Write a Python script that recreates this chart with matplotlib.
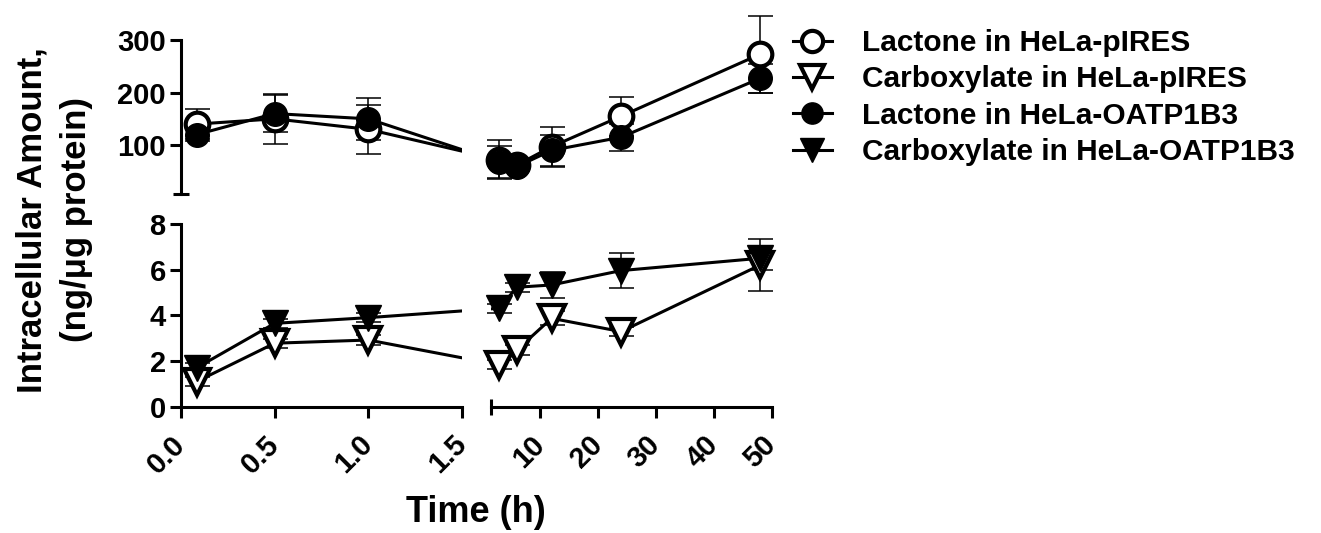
import matplotlib
matplotlib.use('Agg')
import matplotlib.pyplot as plt
from matplotlib.lines import Line2D
import numpy as np

plt.rcParams['font.family'] = ['Liberation Sans', 'DejaVu Sans']
plt.rcParams['font.weight'] = 'bold'
plt.rcParams['axes.linewidth'] = 2.2

# time points (h)
times = [0.083, 0.5, 1.0, 3, 6, 12, 24, 48]

# lactone (upper panel), ng/ug protein
lac_pires = [140, 150, 130, 72, 62, 97, 155, 273]
lac_pires_sd = [28, 47, 46, 37, 10, 38, 37, 73]
lac_oatp = [120, 160, 150, 68, 59, 90, 115, 227]
lac_oatp_sd = [12, 35, 40, 30, 8, 30, 26, 27]

# carboxylate (lower panel)
carb_pires = [1.1, 2.78, 2.92, 1.83, 2.48, 3.87, 3.29, 6.2]
carb_pires_sd = [0.2, 0.2, 0.2, 0.2, 0.2, 0.3, 0.2, 1.15]
carb_oatp = [1.7, 3.65, 3.9, 4.31, 5.23, 5.33, 5.96, 6.5]
carb_oatp_sd = [0.2, 0.2, 0.2, 0.2, 0.2, 0.55, 0.75, 0.5]

labels = ['Lactone in HeLa-pIRES', 'Carboxylate in HeLa-pIRES',
          'Lactone in HeLa-OATP1B3', 'Carboxylate in HeLa-OATP1B3']

left_ticks = [0.0, 0.5, 1.0, 1.5]
right_ticks = [10, 20, 30, 40, 50]
brk = 1.5
tmax = 50
gap = 0.153


def tx(h):
    # map time onto the broken axis (both segments same width)
    h = np.asarray(h, dtype=float)
    return np.where(h <= brk, h, brk + gap + (h - brk) * brk / (tmax - brk))


W, H = 1321, 533
fig = plt.figure(figsize=(W / 100, H / 100), dpi=100)

xl, xr, aw = 181 / W, 490.7 / W, 281 / W
up_b, up_h = 1 - 194 / H, 154 / H
lo_b, lo_h = 1 - 406.7 / H, 182.7 / H

ax_ul = fig.add_axes([xl, up_b, aw, up_h])
ax_ur = fig.add_axes([xr, up_b, aw, up_h])
ax_ll = fig.add_axes([xl, lo_b, aw, lo_h])
ax_lr = fig.add_axes([xr, lo_b, aw, lo_h])

u = tx(times)
nl = 3  # points in left segment

styles = [
    dict(marker='o', mfc='white', mec='black', mew=3),
    dict(marker='v', mfc='white', mec='black', mew=3),
    dict(marker='o', mfc='black', mec='black', mew=1),
    dict(marker='v', mfc='black', mec='black', mew=1),
]
sizes = [17, 19, 17, 19]

series = [(lac_pires, lac_pires_sd, 'up'),
          (carb_pires, carb_pires_sd, 'lo'),
          (lac_oatp, lac_oatp_sd, 'up'),
          (carb_oatp, carb_oatp_sd, 'lo')]

for (vals, sd, panel), st, ms in zip(series, styles, sizes):
    vals = np.array(vals, dtype=float)
    sd = np.array(sd, dtype=float)
    pair = (ax_ul, ax_ur) if panel == 'up' else (ax_ll, ax_lr)
    for k, ax in enumerate(pair):
        ax.plot(u, vals, color='black', lw=2.2, zorder=2)
        sl = slice(0, nl) if k == 0 else slice(nl, None)
        ax.errorbar(u[sl], vals[sl], yerr=sd[sl], fmt='none', ecolor='black',
                    elinewidth=1.1, capsize=9, capthick=1.1, zorder=1,
                    clip_on=False)
        ax.plot(u[sl], vals[sl], ls='none', ms=ms, clip_on=False, zorder=3, **st)

for ax in (ax_ul, ax_ll):
    ax.set_xlim(0, brk)
for ax in (ax_ur, ax_lr):
    ax.set_xlim(float(tx(brk + 1e-9)) - 1e-9, float(tx(tmax)))

ax_ul.set_ylim(7, 300)
ax_ur.set_ylim(7, 300)
ax_ll.set_ylim(0, 8)
ax_lr.set_ylim(0, 8)

for ax in (ax_ul, ax_ur, ax_ll, ax_lr):
    for s in ax.spines.values():
        s.set_visible(False)
    ax.set_facecolor('none')
    ax.tick_params(width=2.2, length=8, labelsize=21, pad=3, direction='out')
    ax.tick_params(which='minor', width=2.2, length=12, direction='inout')

# upper left: y axis only
ax_ul.spines['left'].set_visible(True)
ax_ul.set_yticks([100, 200, 300])
ax_ul.set_yticks([7], minor=True)
ax_ul.set_xticks([])
ax_ur.set_xticks([])
ax_ur.set_yticks([])

# lower left
ax_ll.spines['left'].set_visible(True)
ax_ll.spines['bottom'].set_visible(True)
ax_ll.set_yticks([0, 2, 4, 6, 8])
ax_ll.set_xticks(left_ticks)
ax_ll.set_xticklabels(['%.1f' % t for t in left_ticks], rotation=45,
                      ha='right', va='center', rotation_mode='anchor')
ax_ll.tick_params(axis='x', pad=16)

# lower right
ax_lr.spines['bottom'].set_visible(True)
ax_lr.set_yticks([])
ax_lr.set_xticks(tx(right_ticks))
ax_lr.set_xticks([ax_lr.get_xlim()[0]], minor=True)
ax_lr.set_xticklabels([str(t) for t in right_ticks], rotation=45,
                      ha='right', va='center', rotation_mode='anchor')
ax_lr.tick_params(axis='x', pad=16)

fig.text(54 / W, 1 - 220 / H, 'Intracellular Amount,\n(ng/\u03bcg protein)',
         rotation=90, ha='center', va='center', ma='center', fontsize=25,
         linespacing=1.45)
fig.text(476 / W, 1 - 512 / H, 'Time (h)', ha='center', va='center', fontsize=26)

handles = [Line2D([], [], color='black', lw=2.2, ms=ms * 0.9, **st)
           for st, ms in zip(styles, sizes)]
fig.legend(handles, labels, loc='upper left', bbox_to_anchor=(793 / W, 1 - 29 / H),
           frameon=False, fontsize=21.5, handlelength=1.3, handletextpad=1.0,
           labelspacing=0.28, borderpad=0, borderaxespad=0)

fig.savefig('out.png', dpi=100)
